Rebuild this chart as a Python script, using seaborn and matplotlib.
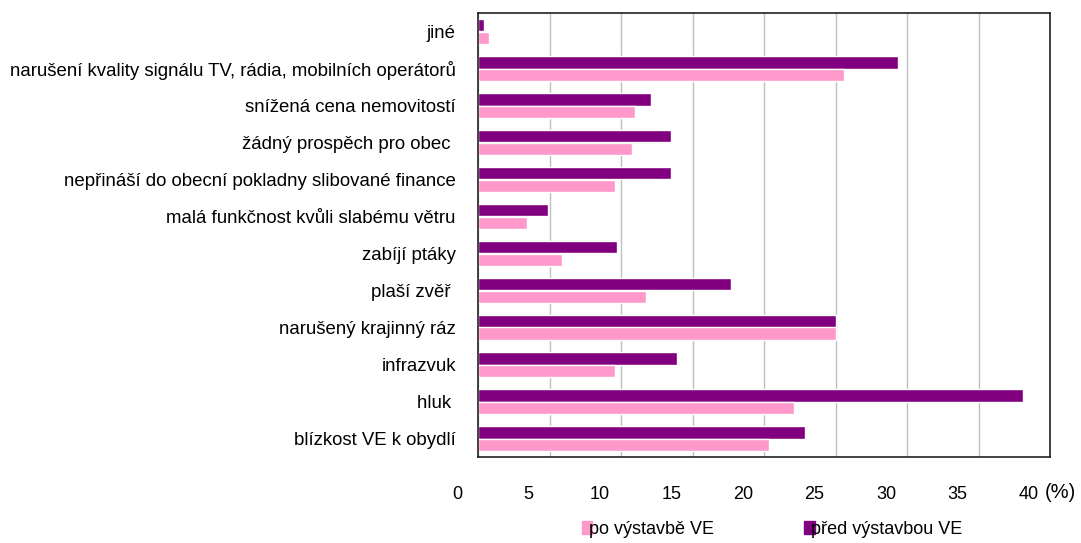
import pandas as pd
import matplotlib.pyplot as plt
import matplotlib.transforms as mtransforms
import seaborn as sns
from matplotlib.patches import Patch

## Data
categories = ['jiné',
              'narušení kvality signálu TV, rádia, mobilních operátorů',
              'snížená cena nemovitostí',
              'žádný prospěch pro obec ',
              'nepřináší do obecní pokladny slibované finance',
              'malá funkčnost kvůli slabému větru',
              'zabíjí ptáky',
              'plaší zvěř ',
              'narušený krajinný ráz',
              'infrazvuk',
              'hluk ',
              'blízkost VE k obydlí']
pred = [0.45, 29.4, 12.1, 13.5, 13.5, 4.9, 9.7, 17.7, 25.0, 13.9, 38.1, 22.9]
po = [0.8, 25.6, 11.0, 10.8, 9.6, 3.4, 5.85, 11.75, 25.0, 9.6, 22.1, 20.35]
series_names = ['před výstavbou VE', 'po výstavbě VE']
colors = {'před výstavbou VE': '#800080', 'po výstavbě VE': '#FF99CC'}

df = pd.DataFrame({'kategorie': categories * 2,
                   'hodnota': pred + po,
                   'serie': [series_names[0]] * len(categories) + [series_names[1]] * len(categories)})

sns.set_style('white')
plt.rcParams['font.family'] = ['Liberation Sans', 'DejaVu Sans']
plt.rcParams['text.color'] = 'black'
plt.rcParams['xtick.labelcolor'] = 'black'
plt.rcParams['ytick.labelcolor'] = 'black'

fig = plt.figure(figsize=(10.81, 5.43), dpi=100)
ax = fig.add_axes([478 / 1081, 1 - 457 / 543, (1050 - 478) / 1081, (457 - 13) / 543])

sns.barplot(data=df, x='hodnota', y='kategorie', hue='serie', hue_order=series_names,
            palette=colors, orient='h', width=0.66, saturation=1, ax=ax, legend=False)

ax.set_xlim(0, 40)
ax.set_xticks(range(0, 41, 5))
ax.xaxis.grid(True, color='#c0c0c0', linewidth=1)
ax.set_axisbelow(True)
for s in ax.spines.values():
    s.set_color('#222222')
    s.set_linewidth(1.2)
ax.tick_params(axis='x', length=4, width=1, color='#222222', pad=17, labelsize=13, labelcolor='black')
ax.tick_params(axis='y', length=0, pad=16, labelsize=13.4, labelcolor='black')
ax.set_xlabel('')
ax.set_ylabel('')

# x labels sit a bit left of their ticks in the original
shift = mtransforms.ScaledTranslation(-0.21, 0, fig.dpi_scale_trans)
for lab in ax.get_xticklabels():
    lab.set_transform(lab.get_transform() + shift)

fig.text(1045 / 1081, 1 - 493 / 543, '(%)', fontsize=14.5, va='center', ha='left', color='black')

handles = [Patch(color=colors['po výstavbě VE']), Patch(color=colors['před výstavbou VE'])]
fig.legend(handles, ['po výstavbě VE', 'před výstavbou VE'], loc='center', ncol=2,
           bbox_to_anchor=(772 / 1081, 1 - 529 / 543), frameon=False, fontsize=13,
           handlelength=0.6, handleheight=0.7, handletextpad=-0.2, columnspacing=5)

plt.savefig('out.png', dpi=100)
